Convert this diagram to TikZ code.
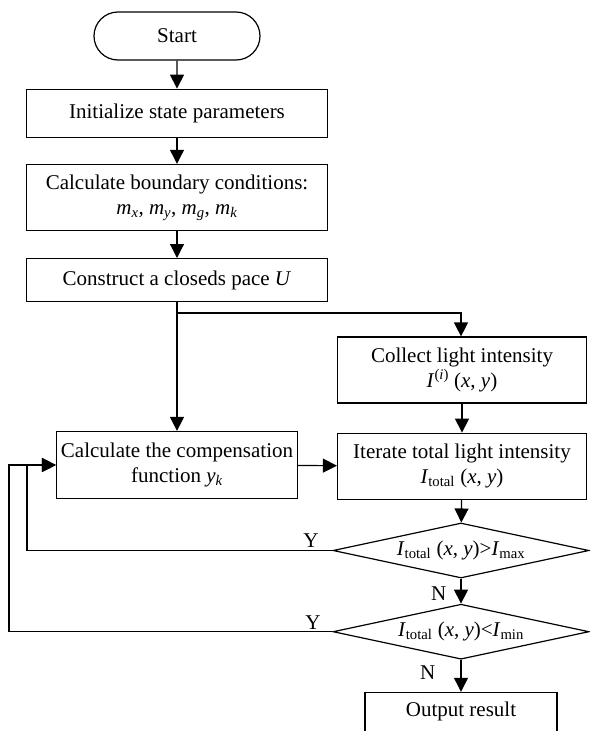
\documentclass[tikz,border=0pt]{standalone}
\usepackage{fontspec}
\setmainfont{Liberation Serif}
\usetikzlibrary{positioning, arrows.meta, shapes.geometric, shapes.misc}
\tikzset{
>={Triangle[length=14pt, width=14pt]}, % big solid heads
node distance=26pt, % gap between stacked boxes
every node/.style={font=\fontsize{21}{25}\selectfont},
term/.style={draw, rounded rectangle, minimum width=166pt, minimum height=48pt, inner sep=0pt},
proc/.style={draw, rectangle, align=center, inner sep=0pt, minimum height=66pt},
cond/.style={draw, diamond, shape aspect=4.65, inner sep=0pt, minimum width=256pt, minimum height=55pt},
lbl/.style={inner sep=2pt},
}
\newcommand{\Itot}{\textit{I}\textsubscript{total}}

\begin{document}
\begin{tikzpicture}[x=1pt, y=1pt, line width=1.2pt]
        \clip (0,0) rectangle (590,-731);
        \node[term] (start) at (177,-36) {Start};
        \node[proc, minimum width=301pt, minimum height=48pt, below=28pt of start] (init) {Initialize state parameters};
        \node[proc, minimum width=301pt, below=26pt of init] (bound) {Calculate boundary conditions:\\
            \textit{m}\textsubscript{\textit{x}}, \textit{m}\textsubscript{\textit{y}}, \textit{m}\textsubscript{\textit{g}}, \textit{m}\textsubscript{\textit{k}}};
        \node[proc, minimum width=301pt, minimum height=43pt, below=27pt of bound] (space) {Construct a closeds pace \textit{U}};
        \coordinate (split) at (177,-313);
        \node[proc, minimum width=241pt, minimum height=67pt] (comp) at (177,-465) {Calculate the compensation\\ function \textit{y}\textsubscript{\textit{k}}};
        \node[proc, minimum width=249pt] (collect) at (462,-370) {Collect light intensity\\ \textit{I}\textsuperscript{(\textit{i})} (\textit{x}, \textit{y})};
        \node[proc, minimum width=249pt, below=29pt of collect] (iter) {Iterate total light intensity\\ \Itot{} (\textit{x}, \textit{y})};
        \node[cond] (max) at (461,-550.5) {\Itot{} (\textit{x}, \textit{y})>\textit{I}\textsubscript{max}};
        \node[cond, below=25pt of max] (min) {\Itot{} (\textit{x}, \textit{y})<\textit{I}\textsubscript{min}};
        \node[proc, minimum width=192pt, minimum height=0pt, text height=24pt, text depth=42pt, below=32pt of min] (out) {Output result};
        \coordinate (inner) at (27,0);
        \coordinate (outer) at (9,0);
        \path[->] (start) edge (init)
        (init) edge (bound)
        (bound) edge (space)
        (space) edge (comp)
        (collect) edge (iter)
        (comp) edge (iter)
        (iter) edge (max)
        (max) edge node[lbl, left, pos=0.6, xshift=-12pt]{N} (min)
        (min) edge node[lbl, left, pos=0.4, xshift=-23pt]{N} (out)
        ;
        \draw[->] (split) -| (min.north |- collect.north);
        \draw[->] (max.west) -- node[lbl, above, pos=0.07]{Y} (max.west -| inner) |- (comp.west);
        \draw[->] (min.west) -- node[lbl, above, pos=0.06]{Y} (min.west -| outer) |- (comp.west);
\end{tikzpicture}
\end{document}
